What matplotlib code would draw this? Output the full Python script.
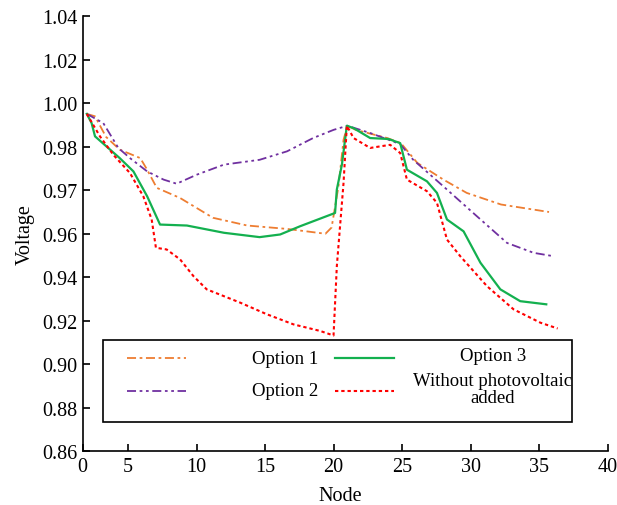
import matplotlib
matplotlib.use("Agg")
import matplotlib.pyplot as plt
from matplotlib.patches import Rectangle
from matplotlib.lines import Line2D

plt.rcParams['font.family'] = ['Liberation Serif', 'DejaVu Serif']

# ---- data ----
opt1_x = [2.0, 2.6, 3.4, 4.4, 5.9, 6.4, 7.1, 8.8, 11.2, 13.7, 16.6, 19.4, 19.85,
          20.35, 20.72, 21.0, 21.6, 23.9, 24.9, 26.1, 28.0, 29.7, 32.2, 35.7]
opt1_y = [0.9995, 0.9985, 0.9900, 0.9847, 0.9812, 0.9764, 0.9689, 0.9647, 0.9565,
          0.9533, 0.9519, 0.9499, 0.9525, 0.9695, 0.9888, 0.9946, 0.9929, 0.9895,
          0.9874, 0.9792, 0.9723, 0.9668, 0.9620, 0.9589]

opt2_x = [2.0, 3.2, 4.3, 5.15, 6.4, 7.6, 8.55, 10.0, 12.0, 14.6, 16.6, 18.5, 20.0,
          21.0, 22.7, 24.0, 24.85, 25.8, 28.0, 30.45, 32.64, 34.58, 36.04]
opt2_y = [0.9995, 0.9957, 0.9854, 0.9812, 0.9757, 0.9723, 0.9706, 0.9743, 0.9785,
          0.9805, 0.9840, 0.9895, 0.9929, 0.9946, 0.9915, 0.9888, 0.9870, 0.9805,
          0.9695, 0.9571, 0.9461, 0.9420, 0.9406]

opt3_x = [2.0, 2.35, 2.6, 3.3, 4.4, 5.4, 6.4, 7.34, 9.3, 12.0, 14.6, 16.1, 17.55,
          20.1, 20.23, 20.6, 20.96, 21.45, 22.66, 24.0, 24.85, 25.34, 26.8, 27.53,
          28.26, 29.47, 30.7, 32.15, 33.6, 35.5]
opt3_y = [0.9995, 0.9957, 0.9902, 0.9867, 0.9812, 0.9757, 0.9654, 0.9537, 0.9533,
          0.9503, 0.9485, 0.9496, 0.9530, 0.9585, 0.9682, 0.9785, 0.9946, 0.9936,
          0.9895, 0.9891, 0.9874, 0.9764, 0.9716, 0.9668, 0.9558, 0.9509, 0.9379,
          0.9269, 0.9220, 0.9207]

nopv_x = [2.0, 2.96, 3.93, 5.15, 6.12, 6.73, 7.04, 7.82, 8.8, 9.77, 10.74, 13.18,
          15.12, 17.07, 19.0, 19.99, 20.23, 20.72, 20.96, 21.45, 22.66, 24.12, 24.85,
          25.34, 26.8, 27.53, 28.26, 29.23, 31.18, 33.12, 35.07, 36.33]
nopv_y = [0.9995, 0.9902, 0.9826, 0.9750, 0.9654, 0.9558, 0.9441, 0.9434, 0.9393,
          0.9324, 0.9269, 0.9214, 0.9166, 0.9124, 0.9097, 0.9078, 0.9365, 0.9710,
          0.9946, 0.9895, 0.9854, 0.9867, 0.9833, 0.9723, 0.9675, 0.9627, 0.9475,
          0.9406, 0.9282, 0.9186, 0.9131, 0.9107]

x_tick_pos = [1.7, 5, 10, 15, 20, 25, 30, 35, 40]
x_tick_labels = ['0', '5', '10', '15', '20', '25', '30', '35', '40']
y_tick_labels = ['0.86', '0.88', '0.90', '0.92', '0.94', '0.96', '0.97', '0.98',
                 '1.00', '1.02', '1.04']

series_labels = ['Option 1', 'Option 2', 'Option 3', 'Without photovoltaic\nadded']

# ---- styles ----
c1, c2, c3, c4 = '#EE7D31', '#7030A0', '#13B04F', '#FF0000'
ls1 = (0, (5, 2, 1.5, 2))
ls2 = (0, (5, 2, 1.5, 2, 1.5, 2))
ls3 = '-'
ls4 = (0, (1.6, 1.4))

fig = plt.figure(figsize=(6.17, 5.06), dpi=100)
ax = fig.add_axes([0.134, 0.1067, 0.8514, 0.8597])

ax.plot(opt1_x, opt1_y, color=c1, ls=ls1, lw=1.3)
ax.plot(opt2_x, opt2_y, color=c2, ls=ls2, lw=1.3)
ax.plot(opt3_x, opt3_y, color=c3, ls=ls3, lw=1.6)
ax.plot(nopv_x, nopv_y, color=c4, ls=ls4, lw=1.5)

ymin, ymax = 0.86, 1.04
ax.set_xlim(1.7, 40)
ax.set_ylim(ymin, ymax)
yt = [ymin + i * (ymax - ymin) / 10 for i in range(11)]
ax.set_yticks(yt)
ax.set_yticklabels(y_tick_labels)
ax.set_xticks(x_tick_pos)
ax.set_xticklabels(x_tick_labels)

for s in ['top', 'right']:
    ax.spines[s].set_visible(False)
for s in ['left', 'bottom']:
    ax.spines[s].set_linewidth(1.2)
ax.tick_params(direction='in', length=5, width=1.2, labelsize=14.5, pad=4)

ax.set_xlabel('Node', fontsize=14.5)
ax.set_ylabel('Voltage', fontsize=14.5)
ax.xaxis.set_label_coords(0.49, -0.08)
ax.yaxis.set_label_coords(-0.092, 0.5)

# ---- legend (manual box) ----
tr = ax.transAxes
ax.add_patch(Rectangle((0.038, 0.066), 0.8935, 0.189, transform=tr, fill=False,
                       lw=1.2, edgecolor='black', zorder=5))
handles = [
    (0.0838, 0.1966, 0.213, c1, ls1, 1.3),
    (0.0838, 0.1966, 0.138, c2, ls2, 1.3),
    (0.4797, 0.5926, 0.213, c3, ls3, 1.6),
    (0.4797, 0.5926, 0.138, c4, ls4, 1.5),
]
for x0, x1, yy, c, ls, lw in handles:
    ax.add_line(Line2D([x0, x1], [yy, yy], transform=tr, color=c, ls=ls, lw=lw, zorder=6))
text_pos = [(0.385, 0.213), (0.385, 0.1386), (0.781, 0.2207), (0.781, 0.1425)]
for (tx, ty), lab in zip(text_pos, series_labels):
    ax.text(tx, ty, lab, transform=tr, ha='center', va='center', fontsize=13.5,
            linespacing=1.0, zorder=6)

fig.savefig('out.png', dpi=100)
